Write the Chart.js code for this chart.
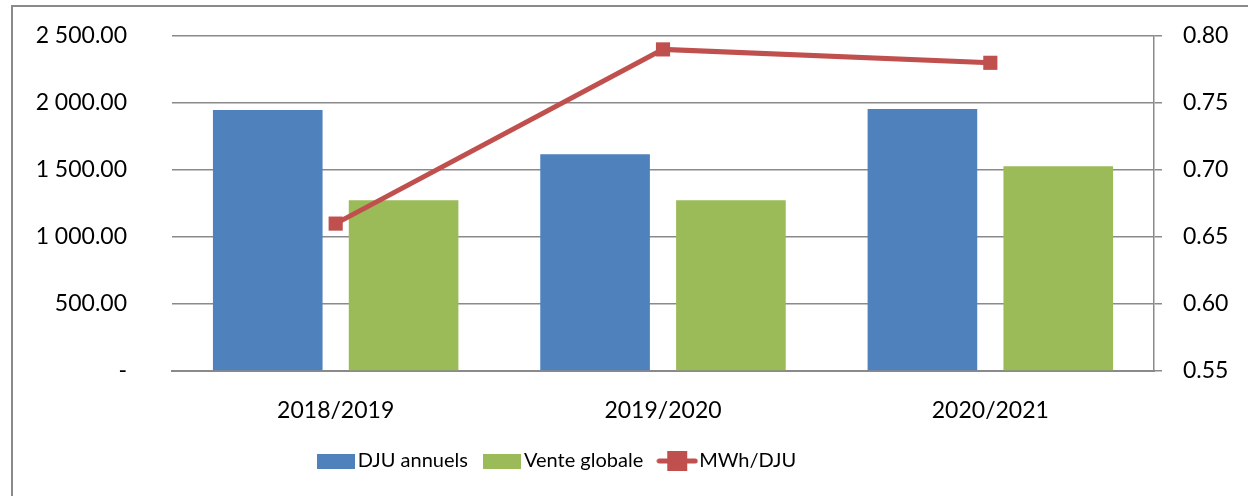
<!DOCTYPE html>
<html>
<head>
<meta charset="utf-8">
<script src="https://cdn.jsdelivr.net/npm/chart.js@4"></script>
<style>
  body { margin: 0; background: #fff; }
  #wrap { position: relative; width: 1248px; height: 496px; overflow: hidden; }
  #frame { position: absolute; left: 11px; top: 5px; width: 1300px; height: 600px; border: 2px solid #8a8a8a; }
  canvas { position: absolute; left: 0; top: 0; }
</style>
</head>
<body>
<div id="wrap">
  <div id="frame"></div>
  <canvas id="myChart" width="1248" height="496"></canvas>
</div>
<script>
// data
const seasons = ['2018/2019', '2019/2020', '2020/2021'];
const djuAnnuels = [1948, 1618, 1955];
const venteGlobale = [1275, 1275, 1528];
const mwhParDju = [0.66, 0.79, 0.78];

const blue = '#4F81BD';
const green = '#9BBB59';
const red = '#C0504D';
const gridColor = '#8a8a8a';
const fontFamily = 'Lato, "Open Sans", sans-serif';

// legend swatches drawn into small canvases
function boxSwatch(color) {
    const c = document.createElement('canvas');
    c.width = 38; c.height = 15;
    const g = c.getContext('2d');
    g.fillStyle = color;
    g.fillRect(0, 0, 38, 15);
    return c;
}
function lineSwatch(color) {
    const c = document.createElement('canvas');
    c.width = 42; c.height = 20;
    const g = c.getContext('2d');
    g.strokeStyle = color;
    g.lineWidth = 5;
    g.lineCap = 'round';
    g.beginPath();
    g.moveTo(3, 10);
    g.lineTo(39, 10);
    g.stroke();
    g.fillStyle = color;
    g.fillRect(11, 0, 20, 20);
    return c;
}

function formatLeft(value) {
    if (value === 0) return '-';
    const parts = value.toFixed(2).split('.');
    const intPart = parts[0].replace(/\B(?=(\d{3})+(?!\d))/g, ' ');
    return intPart + '.' + parts[1];
}

// tick padding also pads the chart area top, drop it
function noVertPadding(s) {
    s.paddingTop = 0;
    s.paddingBottom = 0;
}

// legend in the original sits a bit left of centre
const legendShift = {
    id: 'legendShift',
    afterLayout(chart) {
        const lg = chart.legend;
        lg.left -= 64; lg.right -= 64;
        lg.top -= 3; lg.bottom -= 3;
    }
};

const ctx = document.getElementById('myChart').getContext('2d');
const myChart = new Chart(ctx, {
    data: {
        labels: seasons,
        datasets: [
            {
                type: 'line',
                label: 'MWh/DJU',
                data: mwhParDju,
                yAxisID: 'y1',
                borderColor: red,
                backgroundColor: red,
                borderWidth: 5,
                pointStyle: 'rect',
                pointRadius: 10,
                pointHoverRadius: 10,
                pointBorderWidth: 0,
                tension: 0,
                order: 0,
                legendImg: lineSwatch(red)
            },
            {
                type: 'bar',
                label: 'DJU annuels',
                data: djuAnnuels,
                yAxisID: 'y',
                backgroundColor: blue,
                categoryPercentage: 0.83,
                barPercentage: 0.807,
                order: 1,
                legendImg: boxSwatch(blue)
            },
            {
                type: 'bar',
                label: 'Vente globale',
                data: venteGlobale,
                yAxisID: 'y',
                backgroundColor: green,
                categoryPercentage: 0.83,
                barPercentage: 0.807,
                order: 2,
                legendImg: boxSwatch(green)
            }
        ]
    },
    plugins: [legendShift],
    options: {
        responsive: false,
        animation: false,
        events: [],
        layout: { padding: { top: 36, bottom: 12 } },
        plugins: {
            tooltip: { enabled: false },
            legend: {
                position: 'bottom',
                labels: {
                    usePointStyle: true,
                    pointStyleWidth: 24,
                    padding: 22,
                    color: '#000',
                    font: { family: fontFamily, size: 20 },
                    sort: (a, b) => [1, 2, 0].indexOf(a.datasetIndex) - [1, 2, 0].indexOf(b.datasetIndex),
                    generateLabels: function(chart) {
                        return chart.data.datasets.map((ds, i) => ({
                            text: ds.label,
                            pointStyle: ds.legendImg,
                            fillStyle: ds.backgroundColor,
                            strokeStyle: ds.backgroundColor,
                            lineWidth: 0,
                            hidden: false,
                            datasetIndex: i,
                            fontColor: '#000'
                        }));
                    }
                }
            }
        },
        scales: {
            x: {
                grid: { display: false },
                border: { display: true, color: gridColor, width: 2 },
                ticks: { color: '#000', font: { family: fontFamily, size: 23 }, padding: 18 },
                afterFit: s => { s.height = 61; }
            },
            y: {
                position: 'left',
                min: 0,
                max: 2500,
                grid: { color: gridColor, lineWidth: 1.5, drawTicks: false },
                border: { display: false },
                ticks: {
                    stepSize: 500,
                    padding: 45,
                    color: '#000',
                    font: { family: fontFamily, size: 23 },
                    callback: v => formatLeft(v)
                },
                afterFit: s => { s.width = 172; noVertPadding(s); }
            },
            y1: {
                position: 'right',
                min: 0.55,
                max: 0.80,
                grid: { drawOnChartArea: false, color: gridColor, lineWidth: 1.5, tickLength: 8 },
                border: { display: true, color: gridColor, width: 1.5 },
                ticks: {
                    stepSize: 0.05,
                    padding: 21,
                    color: '#000',
                    font: { family: fontFamily, size: 23 },
                    callback: v => v.toFixed(2)
                },
                afterFit: s => { s.width = 94; noVertPadding(s); }
            }
        }
    }
});
</script>
</body>
</html>
